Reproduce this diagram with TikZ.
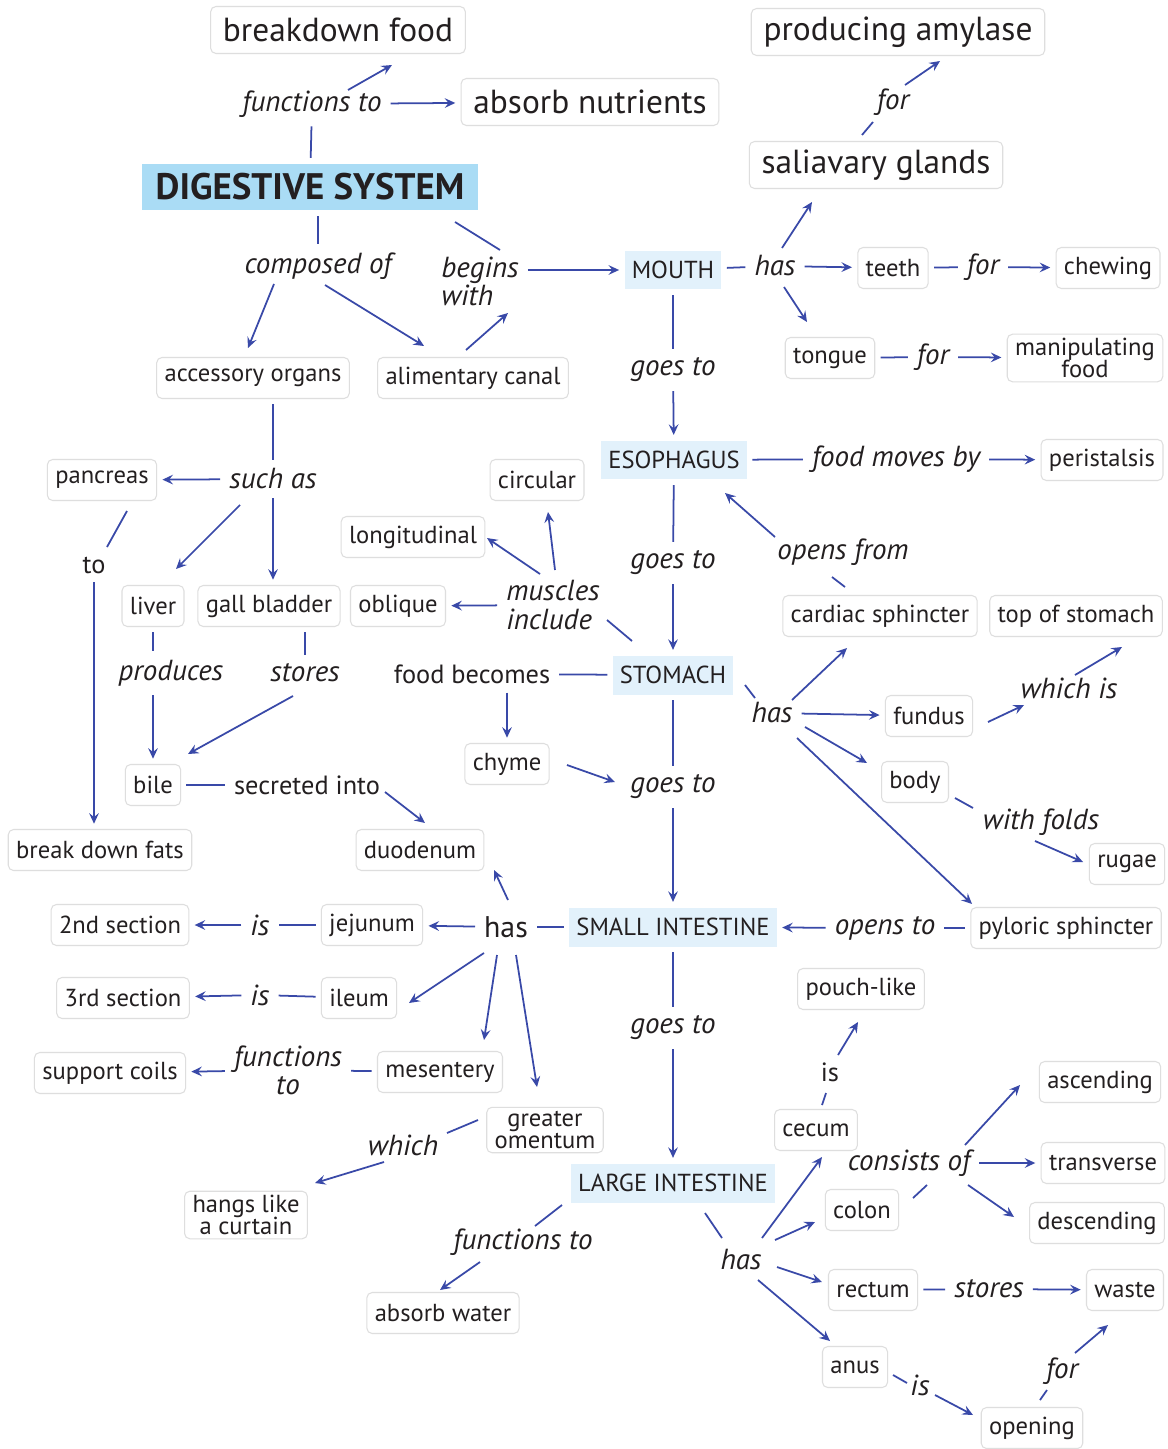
\documentclass[tikz,border=0pt]{standalone}
\usepackage{fontspec}
\setmainfont{PT Sans}
\usepackage{tikz}
\usetikzlibrary{arrows.meta,calc}
\definecolor{linkblue}{RGB}{57,73,168}
\definecolor{skyfill}{RGB}{170,220,245}
\definecolor{palefill}{RGB}{226,241,251}
\definecolor{rimgray}{RGB}{222,222,222}
\definecolor{ink}{RGB}{35,31,32}

\begin{document}
\begin{tikzpicture}[x=0.02cm,y=-0.02cm,
  idea/.style={draw=rimgray,line width=0.6pt,rounded corners=3pt,fill=white,text=ink,
    font=\fontsize{14}{13}\selectfont,inner xsep=4.5pt,inner ysep=2pt,minimum height=0.82cm,align=center},
  topidea/.style={idea,font=\fontsize{19}{19}\selectfont,inner xsep=7pt,minimum height=0.94cm},
  headline/.style={fill=skyfill,text=ink,font=\fontsize{21}{21}\selectfont\bfseries,inner xsep=8pt,minimum height=0.94cm},
  organ/.style={fill=palefill,text=ink,font=\fontsize{14}{14}\selectfont,inner xsep=4pt,minimum height=0.78cm},
  phrase/.style={text=ink,font=\fontsize{16.5}{16}\selectfont\itshape,inner sep=2pt,align=left},
  phraseup/.style={text=ink,font=\fontsize{15}{15}\selectfont,inner sep=2pt},
  tie/.style={draw=linkblue,line width=1pt},
  leads/.style={tie,-{Stealth[length=6pt,width=5.5pt,inset=2.2pt]}},
  gap/.style={shorten <=3pt,shorten >=3pt}]
\useasboundingbox (0,0) rectangle (1167,1449);
\fill[white] (0,0) rectangle (1167,1449);

% concepts
\node[topidea] (bf) at (338,30) {breakdown food};
\node[topidea] (an) at (590,102) {absorb nutrients};
\node[topidea] (pa) at (898,32) {producing amylase};
\node[topidea] (sg) at (876,165) {saliavary glands};
\node[headline] (ds) at (310,187) {DIGESTIVE SYSTEM};
\node[organ] (mouth) at (673,270) {MOUTH};
\node[organ] (eso) at (674,460) {ESOPHAGUS};
\node[organ] (stom) at (673,675) {STOMACH};
\node[organ] (small) at (673,927) {SMALL INTESTINE};
\node[organ] (large) at (673,1183) {LARGE INTESTINE};
\node[idea] (teeth) at (893,268) {teeth};
\node[idea] (chew) at (1108,268) {chewing};
\node[idea] (tongue) at (830,358) {tongue};
\node[idea] (manip) at (1085,358) {manipulating\\food};
\node[idea] (acc) at (253,378) {accessory organs};
\node[idea] (ali) at (473,378) {alimentary canal};
\node[idea] (peri) at (1102,460) {peristalsis};
\node[idea] (panc) at (102,480) {pancreas};
\node[idea] (circ) at (537,480) {circular};
\node[idea] (longi) at (413,537) {longitudinal};
\node[idea] (liver) at (153,606) {liver};
\node[idea] (gall) at (269,606) {gall bladder};
\node[idea] (obl) at (398,606) {oblique};
\node[idea] (cardiac) at (880,616) {cardiac sphincter};
\node[idea] (tops) at (1076,616) {top of stomach};
\node[idea] (fundus) at (929,716) {fundus};
\node[idea] (bile) at (153,785) {bile};
\node[idea] (chyme) at (507,764) {chyme};
\node[idea] (body) at (915,782) {body};
\node[idea] (fats) at (100,850) {break down fats};
\node[idea] (duod) at (420,850) {duodenum};
\node[idea] (rugae) at (1127,864) {rugae};
\node[idea] (sec2) at (120,925) {2nd section};
\node[idea] (jej) at (372,925) {jejunum};
\node[idea] (pyl) at (1066,928) {pyloric sphincter};
\node[idea] (sec3) at (123,998) {3rd section};
\node[idea] (ileum) at (359,998) {ileum};
\node[idea] (pouch) at (861,989) {pouch-like};
\node[idea] (coils) at (110,1073) {support coils};
\node[idea] (mes) at (440,1072) {mesentery};
\node[idea] (asc) at (1100,1082) {ascending};
\node[idea] (omen) at (545,1130) {greater\\omentum};
\node[idea] (cecum) at (816,1130) {cecum};
\node[idea] (trans) at (1103,1163) {transverse};
\node[idea] (curtain) at (246,1215) {hangs like\\a curtain};
\node[idea] (colon) at (862,1210) {colon};
\node[idea] (desc) at (1097,1223) {descending};
\node[idea] (water) at (443,1313) {absorb water};
\node[idea] (rectum) at (873,1290) {rectum};
\node[idea] (waste) at (1125,1290) {waste};
\node[idea] (anus) at (855,1367) {anus};
\node[idea] (opening) at (1032,1428) {opening};

% linking words
\node[phrase] (lFn) at (312,104) {functions to};
\node[phrase] (lComp) at (318,266) {composed of};
\node[phrase] (lBegins) at (480,281) {begins\\with};
\node[phrase] (lHasM) at (775,266) {has};
\node[phrase] (lForT) at (983,267) {for};
\node[phrase] (lForTo) at (933,357) {for};
\node[phrase] (lForS) at (893,102) {for};
\node[phrase] (lGo1) at (673,370) {goes to};
\node[phrase] (lMoves) at (896,459) {food moves by};
\node[phrase] (lSuch) at (273,479) {such as};
\node[phraseup] (lTo) at (94,565) {to};
\node[phrase] (lGo2) at (673,563) {goes to};
\node[phrase] (lOpens) at (843,552) {opens from};
\node[phrase] (lMusc) at (553,605) {muscles\\include};
\node[phrase] (lProd) at (171,673) {produces};
\node[phrase] (lStores) at (305,673) {stores};
\node[phraseup] (lBecomes) at (472,674) {food becomes};
\node[phrase] (lHasS) at (772,713) {has};
\node[phrase] (lWhich) at (1069,688) {which is};
\node[phrase] (lGo3) at (673,787) {goes to};
\node[phraseup] (lSecr) at (307,785) {secreted into};
\node[phrase] (lFolds) at (1041,822) {with folds};
\node[phrase] (lIs1) at (260,925) {is};
\node[phraseup,font=\fontsize{17}{17}\selectfont] (lHasSI) at (506,927) {has};
\node[phrase] (lOpensTo) at (885,928) {opens to};
\node[phrase] (lIs2) at (260,995) {is};
\node[phrase] (lGo4) at (673,1028) {goes to};
\node[phraseup] (lIsC) at (830,1072) {is};
\node[phrase,align=center] (lFnM) at (288,1070) {functions\\to};
\node[phrase] (lWhichO) at (403,1145) {which};
\node[phrase] (lCons) at (909,1163) {consists of};
\node[phrase] (lFnL) at (523,1242) {functions to};
\node[phrase] (lHasL) at (741,1260) {has};
\node[phrase] (lStoresR) at (989,1289) {stores};
\node[phrase] (lIsA) at (920,1385) {is};
\node[phrase] (lForO) at (1062,1371) {for};

% straight links
\foreach \a/\b in {ds/lFn, lComp|-ds.south/lComp, mouth/lHasM, teeth/lForT, tongue/lForTo,
                   mouth/lGo1, eso/lMoves, eso/lGo2, stom/lBecomes, stom/lGo3, bile/lSecr,
                   pyl/lOpensTo, small/lHasSI, jej/lIs1, ileum/lIs2, mes/lFnM, small/lGo4,
                   rectum/lStoresR, lSuch|-acc.south/lSuch, liver.south/liver|-lProd.north,
                   lStores|-gall.south/lStores}
  \draw[tie,gap] (\a) -- (\b);
\foreach \a/\b in {lFn/an, lBegins.east|-mouth/mouth, lHasM/teeth, lForT/chew, lForTo/manip,
                   lGo1/eso, lMoves/peri, lSuch/panc, lSuch/lSuch|-gall.north, lTo/lTo|-fats.north,
                   lGo2/stom, lMusc/obl, liver|-lProd.south/bile, chyme|-lBecomes.south/chyme,
                   lGo3/small, lHasS/fundus, lOpensTo/small, lHasSI/jej, lIs1/sec2, lIs2/sec3,
                   lFnM/coils, lGo4/large, lCons/trans, lStoresR/waste}
  \draw[leads,gap] (\a) -- (\b);

% slanted links, offsets from the node centres
\foreach \a/\ax/\ay/\b/\bx/\by in {ds/145/35/lBegins/20/-31, sg/-14/-30/lForS/-20/20,
    cardiac/-35/-29/lOpens/-11/25, panc/25/31/lTo/13/-18, lMusc/54/15/stom/-41/-34,
    stom/72/10/lHasS/-17/-15, body/40/16/lFolds/-68/-14, omen/-67/-10/lWhichO/44/-12,
    large/-111/22/lFnL/12/-16, large/32/30/lHasL/-19/-22, cecum/6/-25/lIsC/-4/21,
    colon/51/-12/lCons/18/22, anus/38/8/lIsA/-13/-2, opening/8/-28/lForO/-15/19}
  \draw[tie] ($(\a)+(\ax,\ay)$) -- ($(\b)+(\bx,\by)$);
\foreach \a/\ax/\ay/\b/\bx/\by in {lFn/36/-14/bf/54/35, lComp/-44/18/acc/-5/-30,
    lComp/7/19/ali/-49/-32, ali/-7/-28/lBegins/28/32, lHasM/7/-18/sg/-64/37,
    lHasM/9/21/tongue/-23/-36, lForS/12/-17/pa/42/29, lOpens/-68/-15/eso/51/33,
    lSuch/-33/26/liver/23/-37, lMusc/-13/-31/longi/74/1, lMusc/2/-35/circ/11/32,
    lStores/-12/23/bile/35/-31, chyme/60/1/lGo3/-58/-5, lSecr/78/7/duod/5/-27,
    lHasS/20/-13/cardiac/-33/32, lHasS/33/14/body/-48/-19, lHasS/25/25/pyl/-94/-24,
    fundus/59/6/lWhich/-45/17, lWhich/6/-13/tops/46/31, lFolds/-6/19/rugae/-44/-2,
    lHasSI/2/-27/duod/74/20, lHasSI/-22/26/ileum/50/5, lHasSI/-9/28/mes/44/-32,
    lHasSI/10/28/omen/-8/-43, lWhichO/-19/17/curtain/69/-32, lFnL/-43/20/water/-3/-23,
    lHasL/21/-22/cecum/6/27, lHasL/34/-20/colon/-47/12, lHasL/36/7/rectum/-51/-8,
    lHasL/17/20/anus/-25/-26, lIsC/8/-17/pouch/-3/33, lCons/56/-18/asc/-80/3,
    lCons/59/22/desc/-83/-6, lIsA/15/10/opening/-59/-13, lForO/13/-18/waste/-17/35}
  \draw[leads] ($(\a)+(\ax,\ay)$) -- ($(\b)+(\bx,\by)$);
\end{tikzpicture}
\end{document}
